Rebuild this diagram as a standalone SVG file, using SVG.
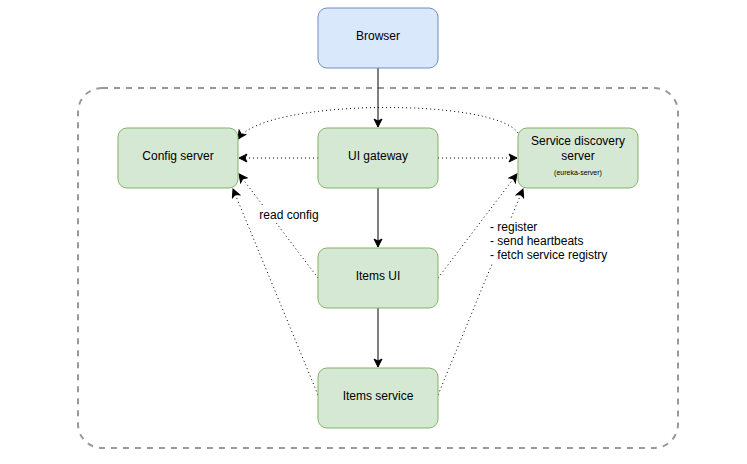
<svg xmlns="http://www.w3.org/2000/svg" width="747" height="464" viewBox="0 0 747 464">
<style>
.box{fill:#d5e8d4;stroke:#82b366;stroke-width:1}
.blue{fill:#dae8fc;stroke:#6c8ebf;stroke-width:1}
text{font-family:"Liberation Sans",Arial,sans-serif;font-size:12px;fill:#000}
.c{text-anchor:middle}
.solid{fill:none;stroke:#000;stroke-width:1}
.dot{fill:none;stroke:#000;stroke-width:1;stroke-dasharray:1 3}
</style>
<defs>
<marker id="arr" viewBox="0 0 10 10" refX="9" refY="5" markerWidth="10" markerHeight="10" markerUnits="userSpaceOnUse" orient="auto">
<path d="M1,1 L9,5 L1,9 L3,5 Z" fill="#000" stroke="#000" stroke-width="1"/>
</marker>
</defs>
<rect id="container" x="78" y="88" width="600" height="360" rx="24" ry="24" fill="none" stroke="#999999" stroke-width="2" stroke-dasharray="6 6"/>
<g id="connectors">
<path class="solid" d="M378,68 L378,127" marker-end="url(#arr)"/>
<path class="solid" d="M378,188 L378,247" marker-end="url(#arr)"/>
<path class="solid" d="M378,308 L378,367" marker-end="url(#arr)"/>
<path class="dot" d="M318,158 L239,158" marker-end="url(#arr)"/>
<path class="dot" d="M438,158 L517,158" marker-end="url(#arr)"/>
<path class="dot" d="M518,133 C495,98 265,98 238,139" marker-end="url(#arr)"/>
<path class="dot" d="M318,278 L239,174" marker-end="url(#arr)"/>
<path class="dot" d="M318,395 L233,189" marker-end="url(#arr)"/>
<path class="dot" d="M438,278 L517,174" marker-end="url(#arr)"/>
<path class="dot" d="M438,395 L523,189" marker-end="url(#arr)"/>
<rect x="257" y="206" width="64" height="16" fill="#fff"/>
<text x="289" y="219" class="c">read config</text>
<rect x="488" y="219" width="122" height="44" fill="#fff"/>
<text x="490" y="231">- register</text>
<text x="490" y="245">- send heartbeats</text>
<text x="490" y="259">- fetch service registry</text>
</g>
<g id="browser"><rect class="blue" x="318" y="8" width="120" height="60" rx="9"/><text x="378" y="40" class="c">Browser</text></g>
<g id="config-server"><rect class="box" x="118" y="128" width="120" height="60" rx="9"/><text x="178" y="160" class="c">Config server</text></g>
<g id="ui-gateway"><rect class="box" x="318" y="128" width="120" height="60" rx="9"/><text x="378" y="160" class="c">UI gateway</text></g>
<g id="service-discovery"><rect class="box" x="518" y="128" width="120" height="60" rx="9"/><text x="578" y="145" class="c">Service discovery</text><text x="578" y="160" class="c">server</text><text x="578" y="175" class="c" style="font-size:7px">(eureka-server)</text></g>
<g id="items-ui"><rect class="box" x="318" y="248" width="120" height="60" rx="9"/><text x="378" y="280" class="c">Items UI</text></g>
<g id="items-service"><rect class="box" x="318" y="368" width="120" height="60" rx="9"/><text x="378" y="400" class="c">Items service</text></g>
</svg>
